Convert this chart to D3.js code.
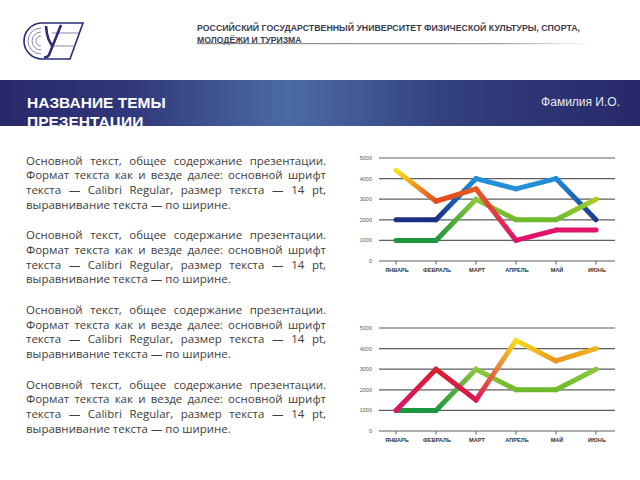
<!DOCTYPE html>
<html><head><meta charset="utf-8">
<script src="https://cdn.jsdelivr.net/npm/d3@7"></script>
<style>html,body{margin:0;padding:0;background:#fff;overflow:hidden}</style>
</head><body>
<svg id="s" width="640" height="480"></svg>
<script>
// ---- data ----
const categories = ["ЯНВАРЬ","ФЕВРАЛЬ","МАРТ","АПРЕЛЬ","МАЙ","ИЮНЬ"];
const yTicks = [0,1000,2000,3000,4000,5000];
const chart1Blue  = [2000,2000,4000,3500,4000,2000];
const chart1Green = [1000,1000,3000,2000,2000,3000];
const chart1Warm  = [4400,2900,3500,1000,1500,1500];
const chart2Green = [1000,1000,3000,2000,2000,3000];
const chart2Warm  = [1000,3000,1500,4400,3400,4000];
// colours along each line (one per month)
const chart1BlueColors  = ["#1c2e86","#1c2e86","#1f8fdd","#2a8ed6","#1f8cdb","#1a3a8e"];
const chart1GreenColors = ["#1e9640","#1e9640","#8cc63e","#6dbb2a","#6dbb2a","#a6cc28"];
const chart1WarmColors  = ["#f6e21c","#e5491c","#e65a1d","#e0146c","#e0146c","#e0146c"];
const chart2GreenColors = ["#1e9640","#1e9640","#8cc63e","#6dbb2a","#6dbb2a","#8cc63e"];
const chart2WarmColors  = ["#e2126e","#d6222e","#de1458","#f6dc1c","#e8961f","#f2b41e"];

const headerLines = ["РОССИЙСКИЙ ГОСУДАРСТВЕННЫЙ УНИВЕРСИТЕТ ФИЗИЧЕСКОЙ КУЛЬТУРЫ, СПОРТА,","МОЛОДЁЖИ И ТУРИЗМА"];
const titleLines = ["НАЗВАНИЕ ТЕМЫ","ПРЕЗЕНТАЦИИ"];
const authorText = "Фамилия И.О.";
const paragraphLines = [
  "Основной текст, общее содержание презентации.",
  "Формат текста как и везде далее: основной шрифт",
  "текста — Calibri Regular, размер текста — 14 pt,",
  "выравнивание текста — по ширине."
];
const paragraphCount = 4;

// ---- drawing ----
const svg = d3.select("#s");
const defs = svg.append("defs");

// banner
const bg = defs.append("linearGradient").attr("id","banner").attr("x1","0").attr("x2","1").attr("y1","0").attr("y2","0");
[[0,"#28296a"],[0.2,"#30377a"],[0.45,"#4b6ba4"],[0.7,"#33407e"],[1,"#27286a"]].forEach(([o,c])=>bg.append("stop").attr("offset",o).attr("stop-color",c));
svg.append("rect").attr("x",0).attr("y",80).attr("width",640).attr("height",46).attr("fill","url(#banner)");
const clip = defs.append("clipPath").attr("id","bannerClip");
clip.append("rect").attr("x",0).attr("y",80).attr("width",640).attr("height",46);
svg.append("g").attr("clip-path","url(#bannerClip)").selectAll("text").data(titleLines).join("text")
  .attr("x",27).attr("y",(d,i)=>108+i*19)
  .attr("font-family","Liberation Sans, Arial, sans-serif").attr("font-weight","bold").attr("font-size",15.5)
  .attr("fill","#ffffff").text(d=>d);
svg.append("text").attr("x",620).attr("y",106).attr("text-anchor","end")
  .attr("font-family","Liberation Sans, Arial, sans-serif").attr("font-size",12).attr("fill","#e6e9f2").text(authorText);

// header
svg.selectAll("text.hdr").data(headerLines).join("text").attr("class","hdr")
  .attr("x",197).attr("y",(d,i)=>31+i*12)
  .attr("font-family","Liberation Sans Narrow, Arial Narrow, Liberation Sans, sans-serif")
  .attr("font-weight","bold").attr("font-size",9.6).attr("fill","#3c3c4c")
  .attr("textLength",(d,i)=>i===0?383:104.5).attr("lengthAdjust","spacingAndGlyphs").text(d=>d);
const ul = defs.append("linearGradient").attr("id","ul").attr("x1","0").attr("x2","1");
[[0,"#8a8a8a"],[0.75,"#9a9a9a"],[1,"#ffffff"]].forEach(([o,c])=>ul.append("stop").attr("offset",o).attr("stop-color",c));
svg.append("rect").attr("x",197).attr("y",43).attr("width",395).attr("height",1.2).attr("fill","url(#ul)");

// logo
const logo = svg.append("g").attr("fill","none").attr("stroke","#2a2c78");
logo.append("path").attr("stroke-width",1.6)
  .attr("d","M41,23 L83,23 L70,59 L43,59 A18,18 0 0 1 41,23 Z");
[13,9,5].forEach(r=>logo.append("path").attr("stroke-width",0.8).attr("stroke","#6a6c9a")
  .attr("d",`M${41},${41-r} A${r},${r} 0 0 0 ${41},${41+r}`));
logo.append("path").attr("stroke-width",0.8).attr("stroke","#6a6c9a").attr("d","M52,33 L79,33 M50,46 L75,46");
logo.append("path").attr("stroke-width",2.6).attr("d","M46,26 Q47,41 53,46");
logo.append("path").attr("stroke-width",2.6).attr("d","M61,25 L49,55 Q47,58 44,57");

// body text (justified)
const bodyFont = "Open Sans, Noto Sans, Liberation Sans, sans-serif";
const lineW = 300, x0 = 26;
// fit font size so the natural last line is ~205px wide like the reference
const probe = svg.append("text").attr("font-family",bodyFont).attr("font-size",12).text(paragraphLines[3]);
const fs = 12*205/probe.node().getComputedTextLength();
probe.remove();
const body = svg.append("g");
for(let p=0;p<paragraphCount;p++){
  paragraphLines.forEach((ln,i)=>{
    const t = body.append("text").attr("x",x0).attr("y",164.5+p*74.7+i*14.7)
      .attr("font-family",bodyFont).attr("font-size",fs).attr("fill","#3d3d3d").text(ln);
    if(i<paragraphLines.length-1){
      const w = t.node().getComputedTextLength();
      const gaps = ln.split(" ").length-1;
      t.style("word-spacing",((lineW-w)/gaps)+"px");
    }
  });
}

// charts
function drawChart(top, series){
  const y = d3.scaleLinear().domain([0,5000]).range([top+103,top]);
  const x = d3.scalePoint().domain(categories).range([396,596]);
  const g = svg.append("g");
  g.selectAll("line.grid").data(yTicks).join("line")
    .attr("x1",379).attr("x2",615).attr("y1",d=>y(d)).attr("y2",d=>y(d))
    .attr("stroke","#5e5e5e").attr("stroke-width",1.2);
  g.selectAll("line.tk").data(categories).join("line")
    .attr("x1",d=>x(d)).attr("x2",d=>x(d)).attr("y1",y(0)).attr("y2",y(0)+3.5)
    .attr("stroke","#5e5e5e").attr("stroke-width",1);
  g.selectAll("text.yl").data(yTicks).join("text")
    .attr("x",372).attr("y",d=>y(d)+2).attr("text-anchor","end")
    .attr("font-family","Liberation Sans, Arial, sans-serif").attr("font-size",5.5).attr("fill","#555")
    .text(d=>d);
  g.selectAll("text.xl").data(categories).join("text")
    .attr("x",d=>x(d)+1).attr("y",y(0)+11).attr("text-anchor","middle")
    .attr("font-family","Liberation Sans Narrow, Liberation Sans, Arial, sans-serif").attr("font-weight","bold")
    .attr("font-size",5.6).attr("fill","#333").text(d=>d);
  series.forEach(([vals,cols],si)=>{
    const pts = vals.map((v,i)=>[x(categories[i]),y(v)]);
    for(let i=0;i<pts.length-1;i++){
      const id = `g${top}_${si}_${i}`;
      const lg = defs.append("linearGradient").attr("id",id).attr("gradientUnits","userSpaceOnUse")
        .attr("x1",pts[i][0]).attr("y1",pts[i][1]).attr("x2",pts[i+1][0]).attr("y2",pts[i+1][1]);
      lg.append("stop").attr("offset",0).attr("stop-color",cols[i]);
      lg.append("stop").attr("offset",1).attr("stop-color",cols[i+1]);
    }
    g.append("g").selectAll("line").data(d3.range(pts.length-1)).join("line")
      .attr("x1",i=>pts[i][0]).attr("y1",i=>pts[i][1]).attr("x2",i=>pts[i+1][0]).attr("y2",i=>pts[i+1][1])
      .attr("stroke",i=>`url(#g${top}_${si}_${i})`).attr("stroke-width",5).attr("stroke-linecap","round");
  });
}
drawChart(158,[[chart1Blue,chart1BlueColors],[chart1Green,chart1GreenColors],[chart1Warm,chart1WarmColors]]);
drawChart(328,[[chart2Green,chart2GreenColors],[chart2Warm,chart2WarmColors]]);
</script>
</body></html>
